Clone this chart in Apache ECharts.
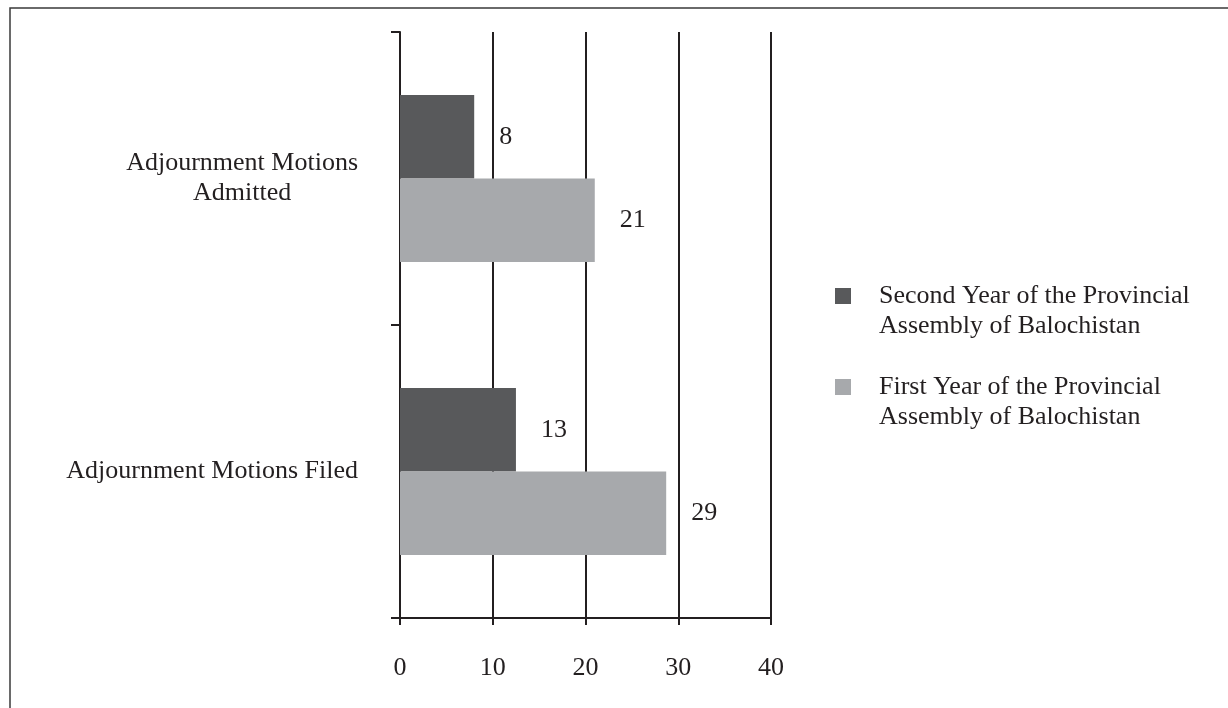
<!DOCTYPE html>
<html>
<head>
<meta charset="utf-8">
<script src="https://cdn.jsdelivr.net/npm/echarts@6/dist/echarts.min.js"></script>
<style>
html,body{margin:0;padding:0;background:#fff;}
#chart{width:1228px;height:708px;}
</style>
</head>
<body>
<div id="chart"></div>
<script>
// ---- data ----
const categories = ['Adjournment Motions Filed', 'Adjournment Motions\nAdmitted'];
const seriesNames = ['Second Year of the Provincial Assembly of Balochistan',
                     'First Year of the Provincial Assembly of Balochistan'];
const secondYear = [12.5, 8];   // bar lengths (labels 13, 8)
const firstYear = [28.7, 21];   // bar lengths (labels 29, 21)
const xTicks = [0, 10, 20, 30, 40];

// ---- chart ----
const FONT = "'Liberation Serif', 'Times New Roman', serif";
const INK = '#231f20';
const chart = echarts.init(document.getElementById('chart'), null, {renderer: 'canvas'});

const labelCfg = {
  show: true,
  position: 'right',
  distance: 25,
  color: INK,
  fontFamily: FONT,
  fontSize: 26,
  formatter: p => String(Math.round(p.value))
};

chart.setOption({
  animation: false,
  backgroundColor: '#fff',
  graphic: [{
    type: 'rect',
    shape: {x: 10, y: 8, width: 1400, height: 900},
    style: {fill: 'none', stroke: '#3a3a3a', lineWidth: 1.5},
    silent: true
  }],
  grid: {left: 400, top: 32, right: 457, bottom: 90, containLabel: false},
  legend: {
    orient: 'vertical',
    left: 835,
    top: 251,
    padding: 0,
    itemWidth: 16,
    itemHeight: 16,
    itemGap: 1,
    icon: 'rect',
    data: [seriesNames[0], seriesNames[1]],
    formatter: n => '\n' + n.replace(' Provincial ', ' Provincial\n'),
    textStyle: {
      color: INK,
      fontFamily: FONT,
      fontSize: 26,
      lineHeight: 30,
      padding: [0, 0, 0, 23]
    }
  },
  xAxis: {
    type: 'value',
    min: xTicks[0],
    max: xTicks[xTicks.length - 1],
    interval: xTicks[1] - xTicks[0],
    axisLine: {show: true, lineStyle: {color: INK, width: 2}},
    axisTick: {show: true, length: 7, lineStyle: {color: INK, width: 2}},
    splitLine: {show: true, lineStyle: {color: INK, width: 2}},
    axisLabel: {color: INK, fontFamily: FONT, fontSize: 26, margin: 37}
  },
  yAxis: {
    type: 'category',
    data: categories,
    axisLine: {show: true, lineStyle: {color: INK, width: 2}},
    axisTick: {show: true, length: 9, lineStyle: {color: INK, width: 2}},
    splitLine: {show: false},
    axisLabel: {
      margin: 42,
      color: INK,
      fontFamily: FONT,
      fontSize: 26,
      lineHeight: 30,
      formatter: v => v.split('\n').map(s => '{c|' + s + '}').join('\n'),
      rich: {c: {align: 'center', fontFamily: FONT, fontSize: 26, lineHeight: 30, color: INK}}
    }
  },
  series: [
    {
      name: seriesNames[0],
      type: 'bar',
      data: secondYear,
      barGap: '0%',
      barCategoryGap: '43%',
      itemStyle: {color: '#58595b'},
      label: labelCfg
    },
    {
      name: seriesNames[1],
      type: 'bar',
      data: firstYear,
      barGap: '0%',
      barCategoryGap: '43%',
      itemStyle: {color: '#a7a9ac'},
      label: labelCfg
    }
  ]
});
</script>
</body>
</html>
